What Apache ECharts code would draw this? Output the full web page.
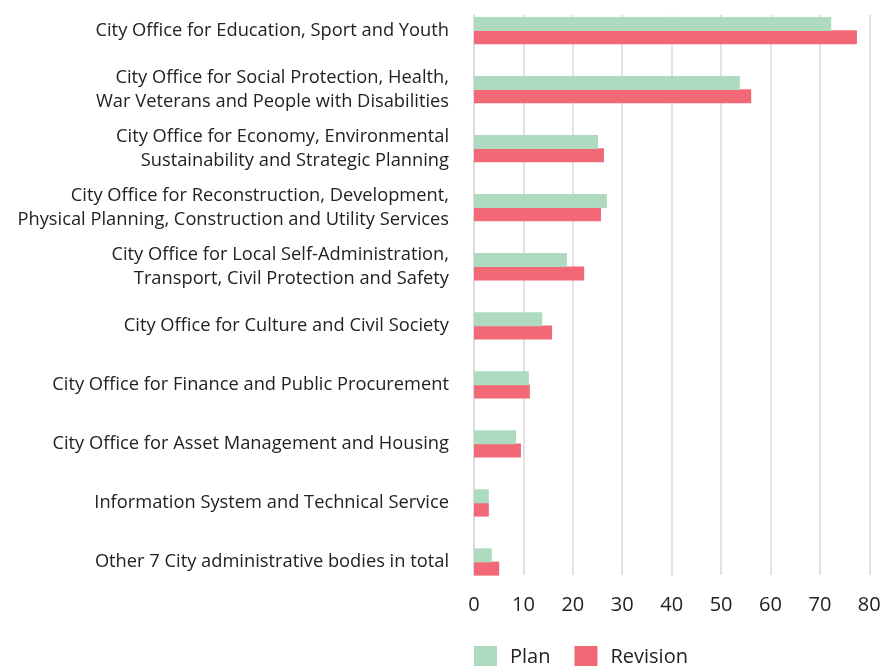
<!DOCTYPE html>
<html><head><meta charset="utf-8">
<script src="https://cdn.jsdelivr.net/npm/echarts@6/dist/echarts.min.js"></script>
<style>html,body{margin:0;padding:0;background:#fff}#c{width:886px;height:666px}</style>
</head><body><div id="c"></div>
<script>
const categories = [
  "City Office for Education, Sport and Youth",
  "City Office for Social Protection, Health,\nWar Veterans and People with Disabilities",
  "City Office for Economy, Environmental\nSustainability and Strategic Planning",
  "City Office for Reconstruction, Development,\nPhysical Planning, Construction and Utility Services",
  "City Office for Local Self-Administration,\nTransport, Civil Protection and Safety",
  "City Office for Culture and Civil Society",
  "City Office for Finance and Public Procurement",
  "City Office for Asset Management and Housing",
  "Information System and Technical Service",
  "Other 7 City administrative bodies in total"
];
const planValues = [72.3, 53.8, 25.1, 26.9, 18.8, 13.8, 11.1, 8.5, 3.0, 3.6];
const revisionValues = [77.5, 56.1, 26.3, 25.7, 22.3, 15.8, 11.3, 9.5, 3.0, 5.1];
const xTicks = { min: 0, max: 80, interval: 10 };

const FONT = "'Open Sans', 'Noto Sans', sans-serif";
const chart = echarts.init(document.getElementById('c'), null, {renderer: 'canvas'});
chart.setOption({
  animation: false,
  textStyle: { fontFamily: FONT },
  grid: [
    { left: 474, right: 16.7, top: 1, bottom: 74.5 },
    { left: 474, right: 16.7, top: 15, bottom: 91 }
  ],
  legend: {
    left: 474, top: 646, padding: 0, itemWidth: 23, itemHeight: 22, itemGap: 24,
    icon: 'rect',
    textStyle: { fontSize: 20, color: '#222', fontFamily: FONT, padding: [0,0,0,8] },
    data: ['Plan', 'Revision']
  },
  xAxis: [
    { gridIndex: 0, type: 'value', min: xTicks.min, max: xTicks.max, interval: xTicks.interval,
      show: false, splitLine: { show: false } },
    { gridIndex: 1, type: 'value', min: xTicks.min, max: xTicks.max, interval: xTicks.interval,
      axisLine: { show: false }, axisTick: { show: false },
      axisLabel: { fontSize: 20, color: '#222', margin: 20, fontFamily: FONT },
      splitLine: { show: true, lineStyle: { color: '#d9d9d9', width: 1.5 } } }
  ],
  yAxis: [
    { gridIndex: 0, type: 'category', data: categories, inverse: true,
      axisLine: { show: false }, axisTick: { show: false },
      axisLabel: { fontSize: 18.3, color: '#222', margin: 25, lineHeight: 24, align: 'right', fontFamily: FONT } },
    { gridIndex: 1, type: 'category', data: categories, inverse: true, show: true,
      axisLine: { show: true, lineStyle: { color: '#d9d9d9', width: 1.5 } },
      axisTick: { show: false }, axisLabel: { show: false } }
  ],
  series: [
    { name: 'Plan', type: 'bar', xAxisIndex: 0, yAxisIndex: 0, data: planValues,
      barWidth: 14, barGap: '-5%', itemStyle: { color: '#aedbc0' }, z: 3 },
    { name: 'Revision', type: 'bar', xAxisIndex: 0, yAxisIndex: 0, data: revisionValues,
      barWidth: 14, barGap: '-5%', itemStyle: { color: '#f26877' }, z: 2 }
  ]
});
</script></body></html>
